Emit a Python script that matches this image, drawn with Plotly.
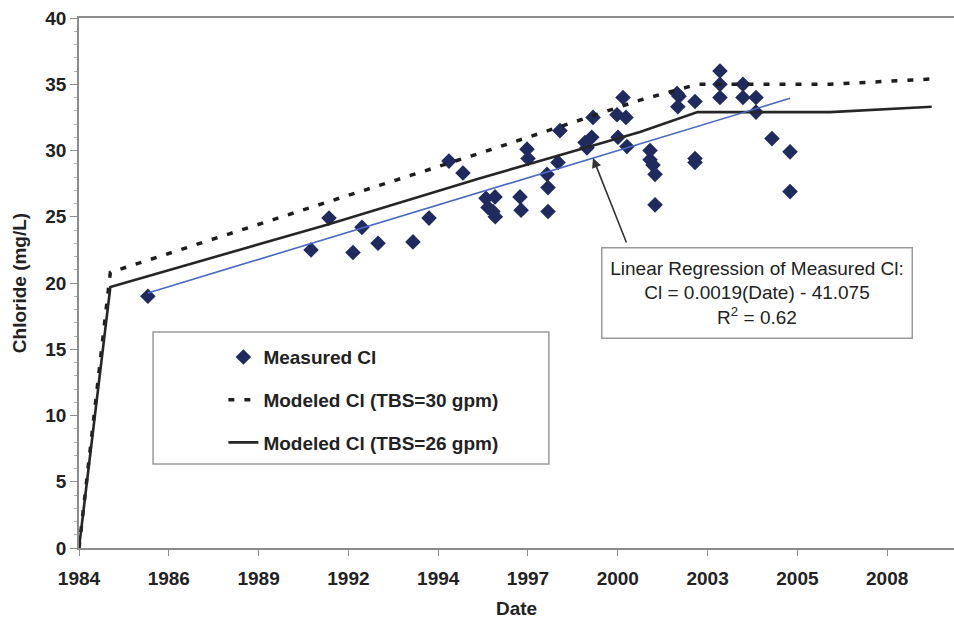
import numpy as np
import pandas as pd
import plotly.graph_objects as go

# Measured chloride samples
MEASURED_DATES = [
    "1986-02-06", "1991-01-28", "1991-08-16", "1992-05-09", "1992-08-17",
    "1993-02-12", "1994-03-08", "1994-09-03", "1995-04-13", "1995-09-16",
    "1996-05-29", "1996-06-21", "1996-08-15", "1996-09-07", "1996-09-10",
    "1997-06-12", "1997-06-24", "1997-08-29", "1997-09-10", "1998-04-09",
    "1998-04-20", "1998-04-20", "1998-08-09", "1998-08-31", "1999-06-06",
    "1999-06-28", "1999-08-20", "1999-09-03", "2000-05-27", "2000-08-02",
    "2000-09-04", "2000-06-07", "2000-09-15", "2001-05-30", "2001-05-30",
    "2001-07-02", "2001-07-25", "2001-07-25", "2002-03-26", "2002-04-18",
    "2002-04-05", "2002-10-13", "2002-10-13", "2002-10-13", "2003-07-18",
    "2003-07-18", "2003-07-18", "2004-03-30", "2004-03-30", "2004-08-22",
    "2004-08-22", "2005-02-16", "2005-09-05", "2005-09-05",
]
MEASURED_CL = [
    19.0, 22.5, 24.9, 22.3, 24.2,
    23.0, 23.1, 24.9, 29.2, 28.3,
    26.4, 25.7, 25.4, 26.5, 25.0,
    26.5, 25.5, 30.1, 29.4, 28.2,
    27.2, 25.4, 29.1, 31.5, 30.6,
    30.2, 31.0, 32.5, 32.7, 34.0,
    32.5, 31.0, 30.3, 30.0, 29.3,
    28.9, 28.2, 25.9, 34.3, 34.1,
    33.3, 33.7, 29.4, 29.1, 36.0,
    35.0, 34.0, 35.0, 34.0, 34.0,
    32.9, 30.9, 29.9, 26.9,
]

# Modeled chloride for two TBS pumping rates
MODEL_DATES = [
    "1984-01-01", "1984-12-15", "1991-07-25", "1996-03-24",
    "2001-02-07", "2002-11-10", "2006-11-24", "2009-12-31",
]
MODEL_30GPM = [0.0, 20.8, 26.1, 29.8, 33.8, 35.0, 35.0, 35.4]
MODEL_26GPM = [0.0, 19.7, 24.4, 27.9, 31.4, 32.9, 32.9, 33.3]

# Axis ticks every 1000 days from 1984-01-01
TICK_LABELS = ["1984", "1986", "1989", "1992", "1994",
               "1997", "2000", "2003", "2005", "2008"]
X_RANGE = ["1984-01-01", "2010-09-05"]

tick_dates = pd.date_range("1984-01-01", periods=len(TICK_LABELS), freq="1000D")

# Least-squares trend of the measured values over the sampled period
meas_dt = pd.to_datetime(pd.Series(MEASURED_DATES))
days = (meas_dt - pd.Timestamp("1900-01-01")).dt.days.to_numpy(dtype=float)
slope, intercept = np.polyfit(days, np.array(MEASURED_CL), 1)
trend_days = np.array([days.min(), days.max()])
trend_dates = pd.Timestamp("1900-01-01") + pd.to_timedelta(trend_days, unit="D")
trend_vals = slope * trend_days + intercept

# Point on the trend line that the callout arrow indicates
arrow_date = pd.Timestamp("1999-09-03")
arrow_day = (arrow_date - pd.Timestamp("1900-01-01")).days
arrow_val = slope * arrow_day + intercept

FONT = "Liberation Sans, Arial, sans-serif"
INK = "#222222"
AXIS_GRAY = "#8c8c8c"

fig = go.Figure()

fig.add_trace(go.Scatter(
    x=MEASURED_DATES, y=MEASURED_CL, mode="markers",
    name="Measured Cl", legendgroup="a",
    marker=dict(symbol="diamond", size=12, color="#1f2b5e"),
))
fig.add_trace(go.Scatter(
    x=MODEL_DATES, y=MODEL_30GPM, mode="lines",
    name="Modeled Cl (TBS=30 gpm)", legendgroup="b",
    line=dict(color="#1e1e1e", width=3.5, dash="6px,10px"),
))
fig.add_trace(go.Scatter(
    x=MODEL_DATES, y=MODEL_26GPM, mode="lines",
    name="Modeled Cl (TBS=26 gpm)", legendgroup="c",
    line=dict(color="#262626", width=2.6),
))
fig.add_trace(go.Scatter(
    x=list(trend_dates), y=list(trend_vals), mode="lines",
    showlegend=False, hoverinfo="skip",
    line=dict(color="#4a68c4", width=1.6),
))

# Frame around the legend
fig.add_shape(
    type="rect", xref="paper", yref="paper",
    x0=0.0846, x1=0.537, y0=0.1585, y1=0.4075,
    line=dict(color="#9a9a9a", width=1.5), fillcolor="white", layer="below",
)

# Regression callout
fig.add_annotation(
    xref="paper", yref="paper", x=0.7743, y=0.4802,
    xanchor="center", yanchor="middle", showarrow=False,
    text="Linear Regression of Measured Cl:<br>Cl = 0.0019(Date) - 41.075<br>R<sup>2</sup> = 0.62",
    font=dict(family=FONT, size=19, color=INK),
    align="center", bgcolor="white",
    bordercolor="#9a9a9a", borderwidth=1.5, borderpad=3,
    width=303, height=83,
)
fig.add_annotation(
    x=arrow_date, y=arrow_val, xref="x", yref="y",
    ax=34, ay=86, axref="pixel", ayref="pixel",
    text="", showarrow=True, arrowhead=2, arrowsize=1.2,
    arrowwidth=1.6, arrowcolor="#333333", standoff=0,
)

fig.update_layout(
    width=954, height=625, autosize=False,
    margin=dict(l=79, r=0, t=18, b=77),
    paper_bgcolor="white", plot_bgcolor="white",
    font=dict(family=FONT, color=INK),
    legend=dict(
        x=0.165, y=0.396, xanchor="left", yanchor="top",
        bgcolor="rgba(0,0,0,0)", borderwidth=0,
        font=dict(family=FONT, size=19, color=INK, weight="bold"),
        tracegroupgap=15,
    ),
    showlegend=True,
)

fig.update_xaxes(
    type="date", range=X_RANGE,
    tickmode="array", tickvals=list(tick_dates), ticktext=TICK_LABELS,
    ticks="outside", ticklen=6, tickcolor=AXIS_GRAY, tickwidth=1.2,
    showline=True, linecolor=AXIS_GRAY, linewidth=1.5, mirror=True,
    showgrid=False, zeroline=False,
    tickfont=dict(family=FONT, size=19, color=INK, weight="bold"),
    ticklabelstandoff=6,
    title=dict(text="Date", font=dict(family=FONT, size=19, color=INK, weight="bold"), standoff=14),
)
fig.update_yaxes(
    range=[0, 40], dtick=5, tick0=0,
    ticks="outside", ticklen=7, tickcolor=AXIS_GRAY, tickwidth=1.2,
    minor=dict(dtick=1, ticks="outside", ticklen=3, tickcolor="#b0b0b0"),
    showline=True, linecolor=AXIS_GRAY, linewidth=1.5,
    showgrid=False, zeroline=False,
    tickfont=dict(family=FONT, size=19, color=INK, weight="bold"),
    title=dict(text="Chloride (mg/L)", font=dict(family=FONT, size=19, color=INK, weight="bold"), standoff=14),
)

fig.write_html("out.html")
